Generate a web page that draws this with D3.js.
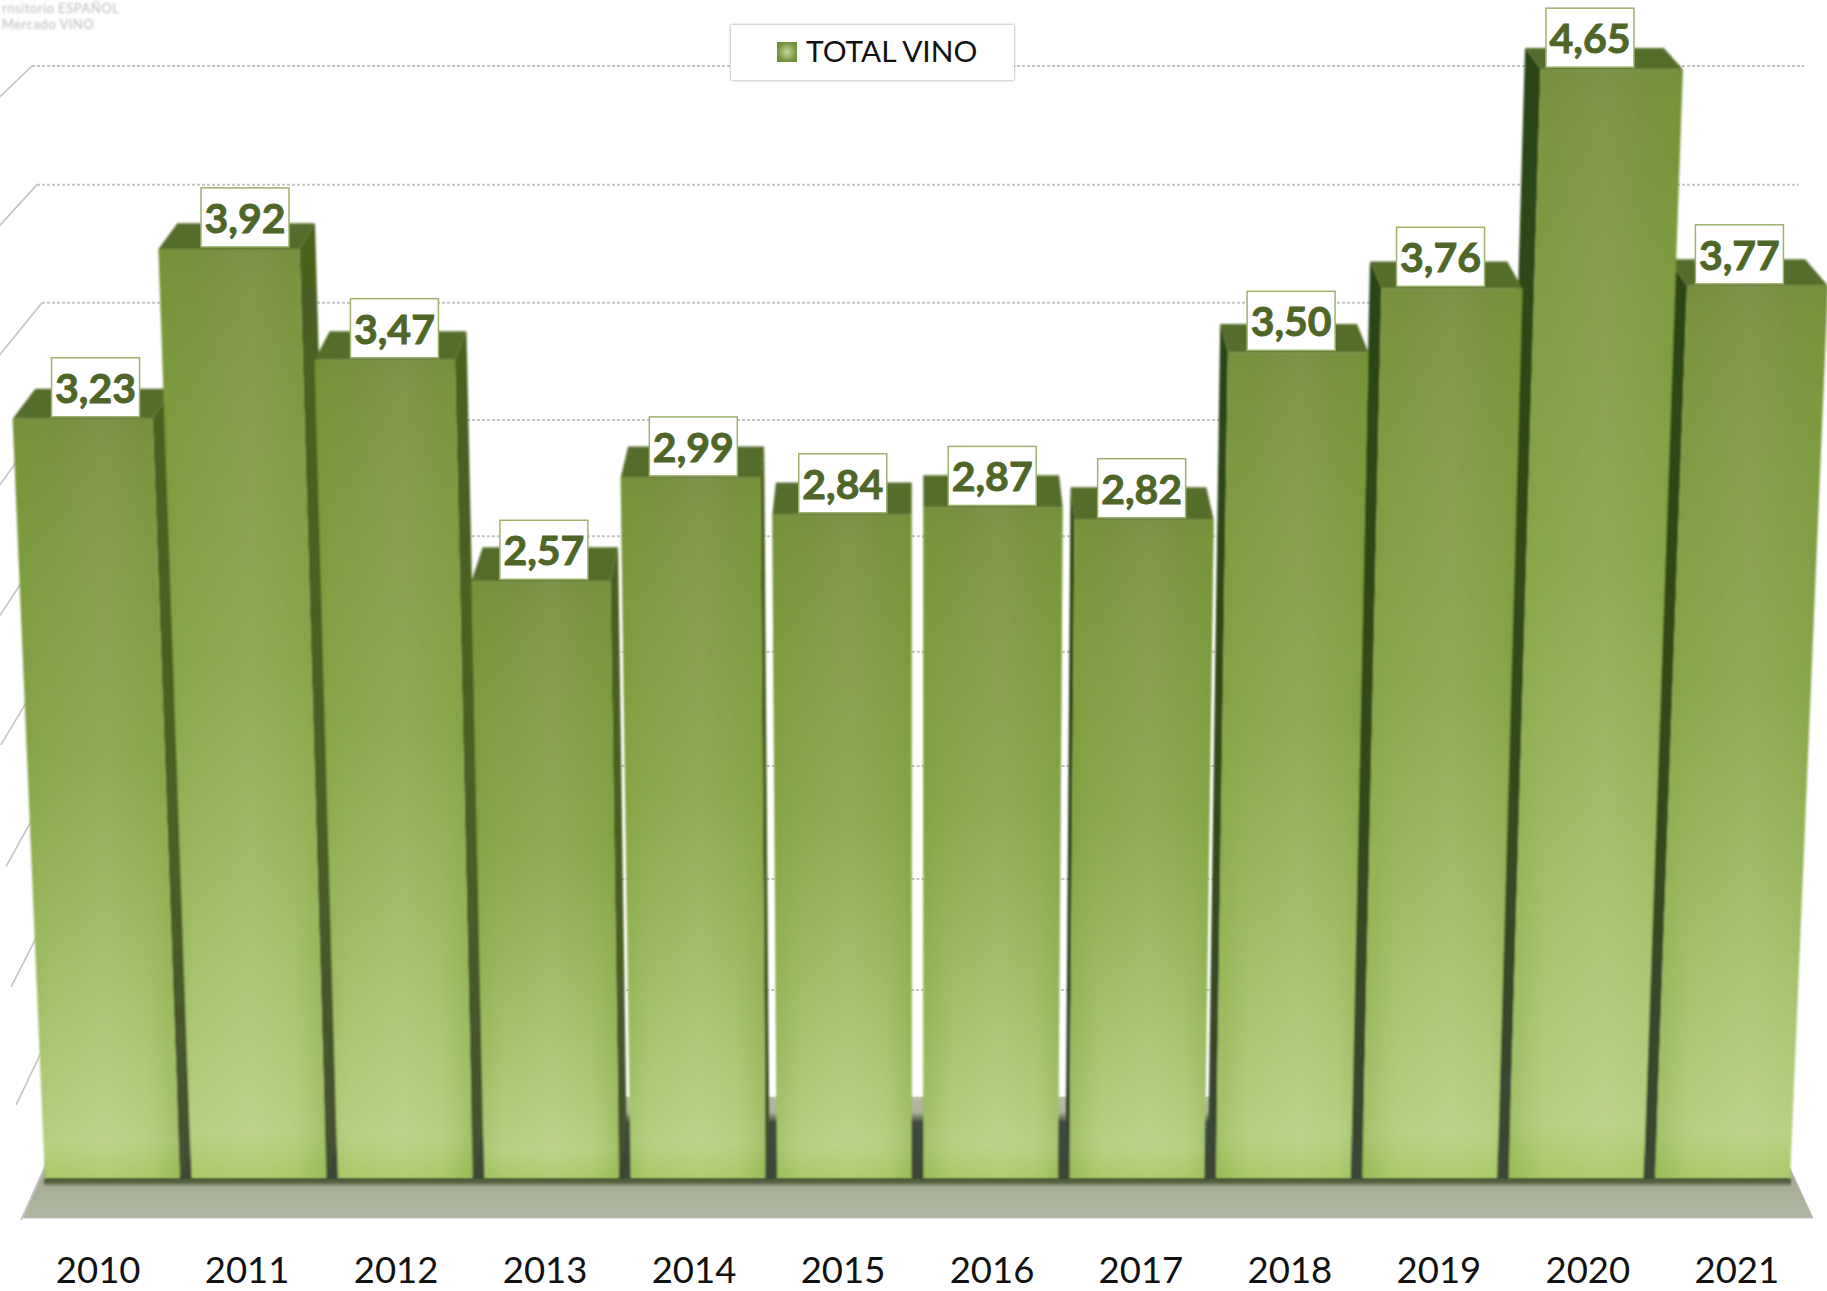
<!DOCTYPE html>
<html>
<head>
<meta charset="utf-8">
<script src="https://cdn.jsdelivr.net/npm/d3@7"></script>
<style>
  html, body { margin: 0; padding: 0; background: #fff; }
  svg { display: block; }
  text { font-family: Lato, "Open Sans", sans-serif; }
  .label-text { font-weight: 700; fill: #4f6628; stroke: #4f6628; stroke-width: 0.9px; }
  .axis text { fill: #111; }
</style>
</head>
<body>
<div id="chart"></div>
<script>
const years = ['2010', '2011', '2012', '2013', '2014', '2015', '2016', '2017', '2018', '2019', '2020', '2021']
const totalVino = [3.23, 3.92, 3.47, 2.57, 2.99, 2.84, 2.87, 2.82, 3.50, 3.76, 4.65, 3.77]
const gridLevels = [0.5, 1, 1.5, 2, 2.5, 3, 3.5, 4, 4.5, 5]
const headingLines = ['rnsitorio ESPAÑOL', 'Mercado VINO']
const seriesName = 'TOTAL VINO'

const width = 1827
const height = 1291
const baseValue = 0.143 // the front edge of the floor cuts the bars here
const vanish = { x: 918, y: -780 }
const depth = 0.025 // bar depth, as a fraction of the way to the vanishing point
const wallDepth = 0.065 // same for the side wall lines
const spread = 0.012 // horizontal perspective per unit of value

const svg = d3.select('#chart').append('svg')
  .attr('width', width)
  .attr('height', height)
  .attr('viewBox', [0, 0, width, height])

const x = d3.scaleBand().domain(years).range([45, 1790]).paddingInner(0.078)
const y = d3.scaleLinear().domain([0, 5]).range([1214, -17])
const wallY = d3.scalePow().exponent(1.05).domain([0, 5]).range([1199, 66])
const wallX = d3.scaleLinear().domain([1199, 66]).range([80, 32])

// Screen point of a bar edge at a given value, pulled back towards the vanishing point
const project = (bx, v, back = 0) => {
  const px = vanish.x + (bx - vanish.x) * (1 + spread * (v - baseValue))
  const py = y(v)
  return [px + (vanish.x - px) * back, py + (vanish.y - py) * back]
}
const poly = pts => 'M' + pts.map(p => p.join(',')).join('L') + 'Z'

/* Gradients */
const defs = svg.append('defs')

const addLinear = (id, stops, horizontal) => {
  const g = defs.append('linearGradient').attr('id', id)
    .attr('x1', 0).attr('y1', 0)
    .attr('x2', horizontal ? 1 : 0).attr('y2', horizontal ? 0 : 1)
  stops.forEach(s => g.append('stop')
    .attr('offset', s[0]).attr('stop-color', s[1]).attr('stop-opacity', s[2] === undefined ? 1 : s[2]))
}
addLinear('barFront', [[0, '#758d40'], [0.04, '#7a9242'], [0.45, '#8ba850'], [0.75, '#a7c370'], [0.95, '#bcd58c'], [1, '#aecd6c']])
addLinear('barSheen', [[0, '#6f9a26', 0.34], [0.22, '#7fa336', 0.1], [0.55, '#c0c090', 0.1], [0.8, '#7fa336', 0.1], [1, '#6f9a26', 0.34]], true)
addLinear('sideRight', [[0, '#48621f'], [0.6, '#4a5f26'], [1, '#434f33']])
addLinear('sideLeft', [[0, '#2b4512'], [0.6, '#33491c'], [1, '#3b4636']])
addLinear('floorFill', [[0, '#a3aa90'], [1, '#b0b6a0']])
addLinear('floorBack', [[0, '#b4baa6'], [0.18, '#aeb49e'], [0.3, '#3f4a3e'], [1, '#3c4636']])
addLinear('contact', [[0, '#4b5734'], [0.5, '#55603f'], [1, '#8f9680']])

const swatch = defs.append('radialGradient').attr('id', 'swatchFill')
swatch.append('stop').attr('offset', 0).attr('stop-color', '#c3d8a0')
swatch.append('stop').attr('offset', 1).attr('stop-color', '#6f8f38')

const soft = defs.append('filter').attr('id', 'soft')
soft.append('feGaussianBlur').attr('stdDeviation', 0.8)
const blurred = defs.append('filter').attr('id', 'blurred')
blurred.append('feGaussianBlur').attr('stdDeviation', 0.9)
const legendShadow = defs.append('filter').attr('id', 'legendShadow')
  .attr('x', -0.05).attr('y', -0.2).attr('width', 1.1).attr('height', 1.4)
legendShadow.append('feDropShadow')
  .attr('dx', 0).attr('dy', 0).attr('stdDeviation', 1.5).attr('flood-color', '#777').attr('flood-opacity', 0.8)

/* Faded heading, top left of the source picture */
svg.append('g').attr('filter', 'url(#blurred)').attr('fill', '#bcbcbc').attr('font-size', 13)
  .attr('letter-spacing', 0.5)
  .selectAll('text')
  .data(headingLines)
  .join('text')
  .attr('x', 2)
  .attr('y', (d, i) => 13 + i * 16)
  .text(d => d)

/* Back wall grid */
const grid = svg.append('g').attr('class', 'grid')
grid.selectAll('line.wall')
  .data(gridLevels)
  .join('line')
  .attr('class', 'wall')
  .attr('x1', d => wallX(wallY(d)))
  .attr('x2', d => 2 * vanish.x - wallX(wallY(d)))
  .attr('y1', d => wallY(d))
  .attr('y2', d => wallY(d))
  .attr('stroke', '#c4c4c4')
  .attr('stroke-width', 2)
  .attr('stroke-dasharray', '3 2')

grid.selectAll('line.side')
  .data(gridLevels)
  .join('line')
  .attr('class', 'side')
  .attr('x1', d => wallX(wallY(d)))
  .attr('y1', d => wallY(d))
  .attr('x2', d => wallX(wallY(d)) + (wallX(wallY(d)) - vanish.x) * wallDepth)
  .attr('y2', d => wallY(d) + (wallY(d) - vanish.y) * wallDepth)
  .attr('stroke', '#c4c4c4')
  .attr('stroke-width', 1.6)

/* Floor */
svg.append('path')
  .attr('d', poly([[45, 1168], [1790, 1168], [1813, 1218], [23, 1218]]))
  .attr('fill', 'url(#floorFill)')
  .attr('stroke', '#bbb')
  .attr('stroke-width', 0.8)

// rear of the floor, only seen through the gaps between the bars
svg.append('path')
  .attr('d', poly([[80, 1097], [1756, 1097], [1790, 1181], [45, 1181]]))
  .attr('fill', 'url(#floorBack)')
  .attr('filter', 'url(#soft)')

/* Bars: outer ones first so that the inner ones sit over their side faces */
const bars = years.map((year, i) => ({ year, value: totalVino[i] }))
const drawOrder = d3.range(bars.length)
  .sort((a, b) => Math.abs(x(years[b]) + x.bandwidth() / 2 - vanish.x) - Math.abs(x(years[a]) + x.bandwidth() / 2 - vanish.x))
  .map(i => bars[i])

const barGroups = svg.append('g').attr('class', 'bars').attr('filter', 'url(#soft)')
  .selectAll('g')
  .data(drawOrder)
  .join('g')

const leftEdge = d => x(d.year)
const rightEdge = d => x(d.year) + x.bandwidth()
const isLeftOfCentre = d => x(d.year) + x.bandwidth() / 2 < vanish.x

// side face
barGroups.append('path')
  .attr('d', d => {
    const e = isLeftOfCentre(d) ? rightEdge(d) : leftEdge(d)
    return poly([project(e, d.value), project(e, d.value, depth), project(e, baseValue, depth), project(e, baseValue)])
  })
  .attr('fill', d => isLeftOfCentre(d) ? 'url(#sideRight)' : 'url(#sideLeft)')

// top face
barGroups.append('path')
  .attr('d', d => poly([
    project(leftEdge(d), d.value),
    project(leftEdge(d), d.value, depth),
    project(rightEdge(d), d.value, depth),
    project(rightEdge(d), d.value)
  ]))
  .attr('fill', '#556d2a')

// front face
const frontPath = d => poly([
  project(leftEdge(d), d.value),
  project(rightEdge(d), d.value),
  project(rightEdge(d), baseValue),
  project(leftEdge(d), baseValue)
])
barGroups.append('path').attr('d', frontPath).attr('fill', 'url(#barFront)')
barGroups.append('path').attr('d', frontPath).attr('fill', 'url(#barSheen)')

// dark contact strip where the bars meet the floor
svg.append('rect')
  .attr('x', x.range()[0] - 1)
  .attr('width', x.range()[1] - x.range()[0] + 2)
  .attr('y', y(baseValue))
  .attr('height', 7)
  .attr('fill', 'url(#contact)')
  .attr('filter', 'url(#soft)')

/* Value labels */
const labelX = d3.scaleLinear()
  .domain([vanish.x - 100, vanish.x + 100])
  .range([vanish.x - 102.1, vanish.x + 102.1])
const labelW = 88
const labelH = 59
const formatValue = v => v.toFixed(2).replace('.', ',')

const labels = svg.append('g').attr('class', 'labels')
  .selectAll('g')
  .data(bars)
  .join('g')
  .attr('transform', d => `translate(${labelX(x(d.year) + x.bandwidth() / 2)}, ${y(d.value) - 2})`)

labels.append('rect')
  .attr('x', -labelW / 2)
  .attr('y', -labelH)
  .attr('width', labelW)
  .attr('height', labelH)
  .attr('fill', '#fff')
  .attr('stroke', '#9db26f')
  .attr('stroke-width', 1.5)

labels.append('text')
  .attr('class', 'label-text')
  .attr('text-anchor', 'middle')
  .attr('y', -14)
  .attr('font-size', 41)
  .text(d => formatValue(d.value))

/* Year axis */
const axisSpread = 1.0178
const axisX = d3.scaleBand()
  .domain(years)
  .range([vanish.x + (x.range()[0] - vanish.x) * axisSpread, vanish.x + (x.range()[1] - vanish.x) * axisSpread])
  .paddingInner(0.078)

svg.append('g')
  .attr('class', 'axis')
  .attr('transform', 'translate(0, 1257)')
  .call(d3.axisBottom(axisX).tickSize(0).tickPadding(0))
  .call(g => g.select('.domain').remove())
  .call(g => g.selectAll('.tick text')
    .attr('font-size', 36.5)
    .attr('font-family', 'Lato, "Open Sans", sans-serif'))

/* Legend */
const legend = svg.append('g').attr('class', 'legend').attr('transform', 'translate(731, 25)')
legend.append('rect')
  .attr('width', 283)
  .attr('height', 55)
  .attr('fill', '#fff')
  .attr('filter', 'url(#legendShadow)')
legend.append('rect')
  .attr('x', 46)
  .attr('y', 17)
  .attr('width', 20)
  .attr('height', 20)
  .attr('fill', 'url(#swatchFill)')
legend.append('text')
  .attr('x', 75)
  .attr('y', 37)
  .attr('font-size', 29.8)
  .attr('fill', '#111')
  .text(seriesName)
</script>
</body>
</html>
